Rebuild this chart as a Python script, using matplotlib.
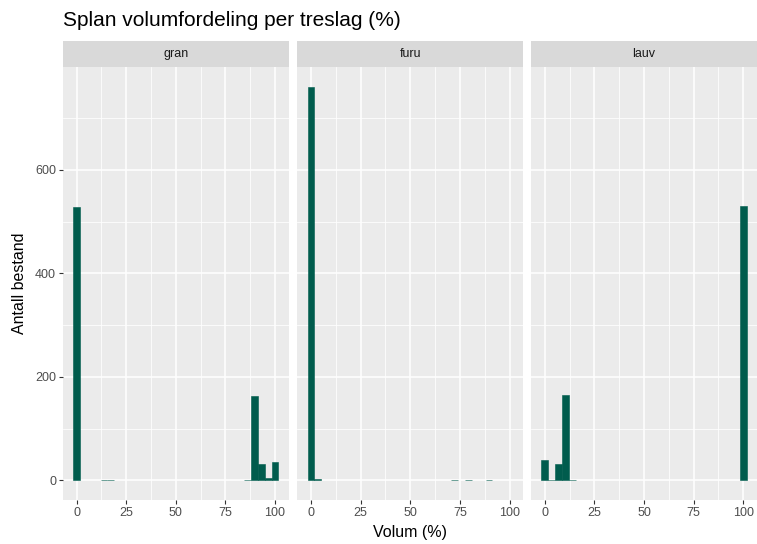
import numpy as np
import matplotlib
matplotlib.use("Agg")
import matplotlib.pyplot as plt

plt.rcParams["font.family"] = ["Liberation Sans", "DejaVu Sans"]

# histogram counts, 30 bins centred on k*100/29 (ggplot default bins=30)
treslag = ["gran", "furu", "lauv"]
gran = [528, 0, 0, 0, 1, 1, 0, 0, 0, 0, 0, 0, 0, 0, 0,
        0, 0, 0, 0, 0, 0, 0, 0, 0, 0, 1, 163, 31, 5, 35]
furu = [761, 3, 0, 0, 0, 0, 0, 0, 0, 0, 0, 0, 0, 0, 0,
        0, 0, 0, 0, 0, 0, 1, 0, 1, 0, 0, 1, 0, 0, 0]
lauv = [39, 1, 31, 165, 1, 0, 0, 0, 0, 0, 0, 0, 0, 0, 0,
        0, 0, 0, 0, 0, 0, 0, 0, 0, 0, 0, 0, 0, 0, 530]
counts = [gran, furu, lauv]

nbins = 30
bw = 100 / (nbins - 1)
centers = np.arange(nbins) * bw

W, H = 757, 544
fig = plt.figure(figsize=(W / 100, H / 100), dpi=100)
fig.patch.set_facecolor("white")

fill = "#005c4d"
panels_x = [(63, 288.7), (297.3, 523.3), (531, 757)]
ptop, pbot = 67, 500
stop, sbot = 41, 66.7

xlo, xhi = -bw / 2, 100 + bw / 2
xpad = (xhi - xlo) * 0.05
ymax = max(max(c) for c in counts)
ypad = ymax * 0.05

for i, (x0, x1) in enumerate(panels_x):
    ax = fig.add_axes([x0 / W, 1 - pbot / H, (x1 - x0) / W, (pbot - ptop) / H])
    ax.set_facecolor("#ebebeb")
    ax.set_xlim(xlo - xpad, xhi + xpad)
    ax.set_ylim(-ypad, ymax + ypad)
    for s in ax.spines.values():
        s.set_visible(False)
    ax.set_xticks([0, 25, 50, 75, 100])
    ax.set_xticks([12.5, 37.5, 62.5, 87.5], minor=True)
    ax.set_yticks([0, 200, 400, 600])
    ax.set_yticks([100, 300, 500, 700], minor=True)
    ax.grid(which="major", color="white", lw=1.1)
    ax.grid(which="minor", color="white", lw=0.55)
    ax.set_axisbelow(True)
    ax.tick_params(which="major", length=3, width=0.8, color="#333333",
                   labelcolor="#4d4d4d", labelsize=9, pad=2)
    ax.tick_params(which="minor", length=0)
    if i > 0:
        ax.tick_params(axis="y", which="major", left=False, labelleft=False)
    c = np.array(counts[i])
    nz = c > 0
    ax.bar(centers[nz], c[nz], width=bw, color=fill, edgecolor=fill,
           linewidth=0.4)

    sax = fig.add_axes([x0 / W, 1 - sbot / H, (x1 - x0) / W, (sbot - stop) / H])
    sax.set_facecolor("#d9d9d9")
    sax.set_xticks([])
    sax.set_yticks([])
    for s in sax.spines.values():
        s.set_visible(False)
    sax.text(0.5, 0.5, treslag[i], ha="center", va="center",
             fontsize=9, color="#1a1a1a", transform=sax.transAxes)

fig.text(63 / W, 1 - 20 / H, "Splan volumfordeling per treslag (%)",
         ha="left", va="center", fontsize=15, color="black")
fig.text(410 / W, 1 - 532 / H, "Volum (%)", ha="center", va="center",
         fontsize=11.5, color="black")
fig.text(20 / W, 1 - 283 / H, "Antall bestand", ha="center", va="center",
         rotation=90, fontsize=11.5, color="black")

fig.savefig("out.png", dpi=100)
